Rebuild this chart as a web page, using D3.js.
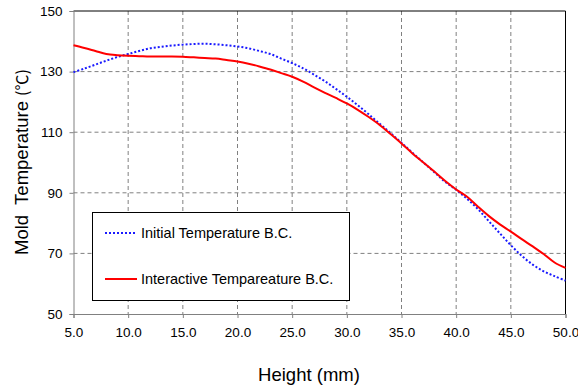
<!DOCTYPE html>
<html><head><meta charset="utf-8">
<script src="https://cdn.jsdelivr.net/npm/d3@7"></script>
<style>
html,body{margin:0;padding:0;background:#fff;}
text{font-family:"Liberation Sans",Arial,"Noto Sans CJK SC",sans-serif;}
</style></head>
<body>
<svg id="c" width="578" height="389"></svg>
<script>
const heights = [5,6,7,8,9,10,11,12,13,14,15,16,17,18,19,20,21,22,23,24,25,26,27,28,29,30,31,32,33,34,35,36,37,38,39,40,41,42,43,44,45,46,47,48,49,50];
const initialBC = [129.8,131.0,132.3,133.6,134.8,135.8,136.8,137.7,138.2,138.6,138.9,139.1,139.2,139.0,138.7,138.3,137.7,136.8,135.8,134.3,132.8,131.1,129.0,126.8,124.3,121.7,118.9,115.9,112.8,109.7,106.5,103.2,100.0,96.8,93.6,91.0,88.0,84.6,80.6,76.6,72.7,69.2,66.3,64.1,62.5,61.0];
const interactiveBC = [138.7,137.8,136.8,135.8,135.4,135.2,135.1,135.0,135.0,135.0,134.9,134.7,134.5,134.3,133.8,133.3,132.6,131.7,130.7,129.5,128.3,126.7,124.8,123.0,121.3,119.5,117.4,115.0,112.4,109.4,106.3,103.0,100.0,97.0,93.9,91.1,88.7,85.4,82.3,79.6,77.2,74.7,72.3,69.8,67.0,65.2];
const xTicks = [5,10,15,20,25,30,35,40,45,50];
const yTicks = [50,70,90,110,130,150];
const seriesNames = ["Initial Temperature B.C.","Interactive Tempareature B.C."];

const svg = d3.select("#c");
const L = 73.5, R = 565.5, T = 11, B = 314;
const x = d3.scaleLinear().domain([5,50]).range([L,R]);
const y = d3.scaleLinear().domain([50,150]).range([B,T]);

// grid
const g = svg.append("g");
g.selectAll(".vg").data(xTicks.filter(d=>d>5&&d<50)).join("line")
  .attr("x1",d=>x(d)).attr("x2",d=>x(d)).attr("y1",T).attr("y2",B)
  .attr("stroke","#808080").attr("stroke-dasharray","4,3").attr("stroke-width",1);
g.selectAll(".hg").data(yTicks.filter(d=>d>50&&d<150)).join("line")
  .attr("y1",d=>y(d)).attr("y2",d=>y(d)).attr("x1",L).attr("x2",R)
  .attr("stroke","#808080").attr("stroke-dasharray","4,3").attr("stroke-width",1);

// frame top/right
svg.append("path").attr("d",`M${L},${T}H${R}V${B}`).attr("fill","none").attr("stroke","#000").attr("stroke-width",1);

// axes
const xAxis = d3.axisBottom(x).tickValues(xTicks).tickFormat(d3.format(".1f")).tickSizeOuter(0).tickSize(4).tickPadding(9);
const yAxis = d3.axisLeft(y).tickValues(yTicks).tickFormat(d3.format("d")).tickSizeOuter(0).tickSize(4).tickPadding(7);
const ax = svg.append("g").attr("transform",`translate(0,${B})`).call(xAxis);
const ay = svg.append("g").attr("transform",`translate(${L},0)`).call(yAxis);
[ax,ay].forEach(a=>{
  a.select(".domain").attr("stroke","#808080");
  a.selectAll(".tick line").attr("stroke","#808080");
  a.selectAll(".tick text").attr("fill","#000").style("font-size","13.5px").style("font-family",'"Liberation Sans",Arial,sans-serif');
});

// lines
const line = d3.line().x((d,i)=>x(heights[i])).y(d=>y(d)).curve(d3.curveCatmullRom);
svg.append("path").datum(initialBC).attr("d",line).attr("fill","none")
  .attr("stroke","#1a1aff").attr("stroke-width",2).attr("stroke-dasharray","2,2");
svg.append("path").datum(interactiveBC).attr("d",line).attr("fill","none")
  .attr("stroke","#ff0000").attr("stroke-width",2);

// legend
const lg = svg.append("g");
lg.append("rect").attr("x",92.5).attr("y",212.5).attr("width",257).attr("height",88)
  .attr("fill","#fff").attr("stroke","#000").attr("stroke-width",1);
const ly = [233,279];
const styles = [{c:"#1a1aff",d:"2,2"},{c:"#ff0000",d:null}];
seriesNames.forEach((n,i)=>{
  lg.append("line").attr("x1",105).attr("x2",137).attr("y1",ly[i]).attr("y2",ly[i])
    .attr("stroke",styles[i].c).attr("stroke-width",2).attr("stroke-dasharray",styles[i].d);
  lg.append("text").attr("x",141).attr("y",ly[i]+5).text(n).style("font-size","14.5px");
});

// titles
svg.append("text").attr("x",309).attr("y",381).attr("text-anchor","middle")
  .style("font-size","18.5px").text("Height (mm)");
const yt = svg.append("text").attr("transform","translate(28,162) rotate(-90)").attr("text-anchor","middle")
  .style("font-size","18.5px").style("white-space","pre");
yt.append("tspan").text("Mold  Temperature ");
yt.append("tspan").style("font-family",'"Noto Sans CJK SC",sans-serif').style("font-size","16px").text("(℃)");
</script>
</body></html>
